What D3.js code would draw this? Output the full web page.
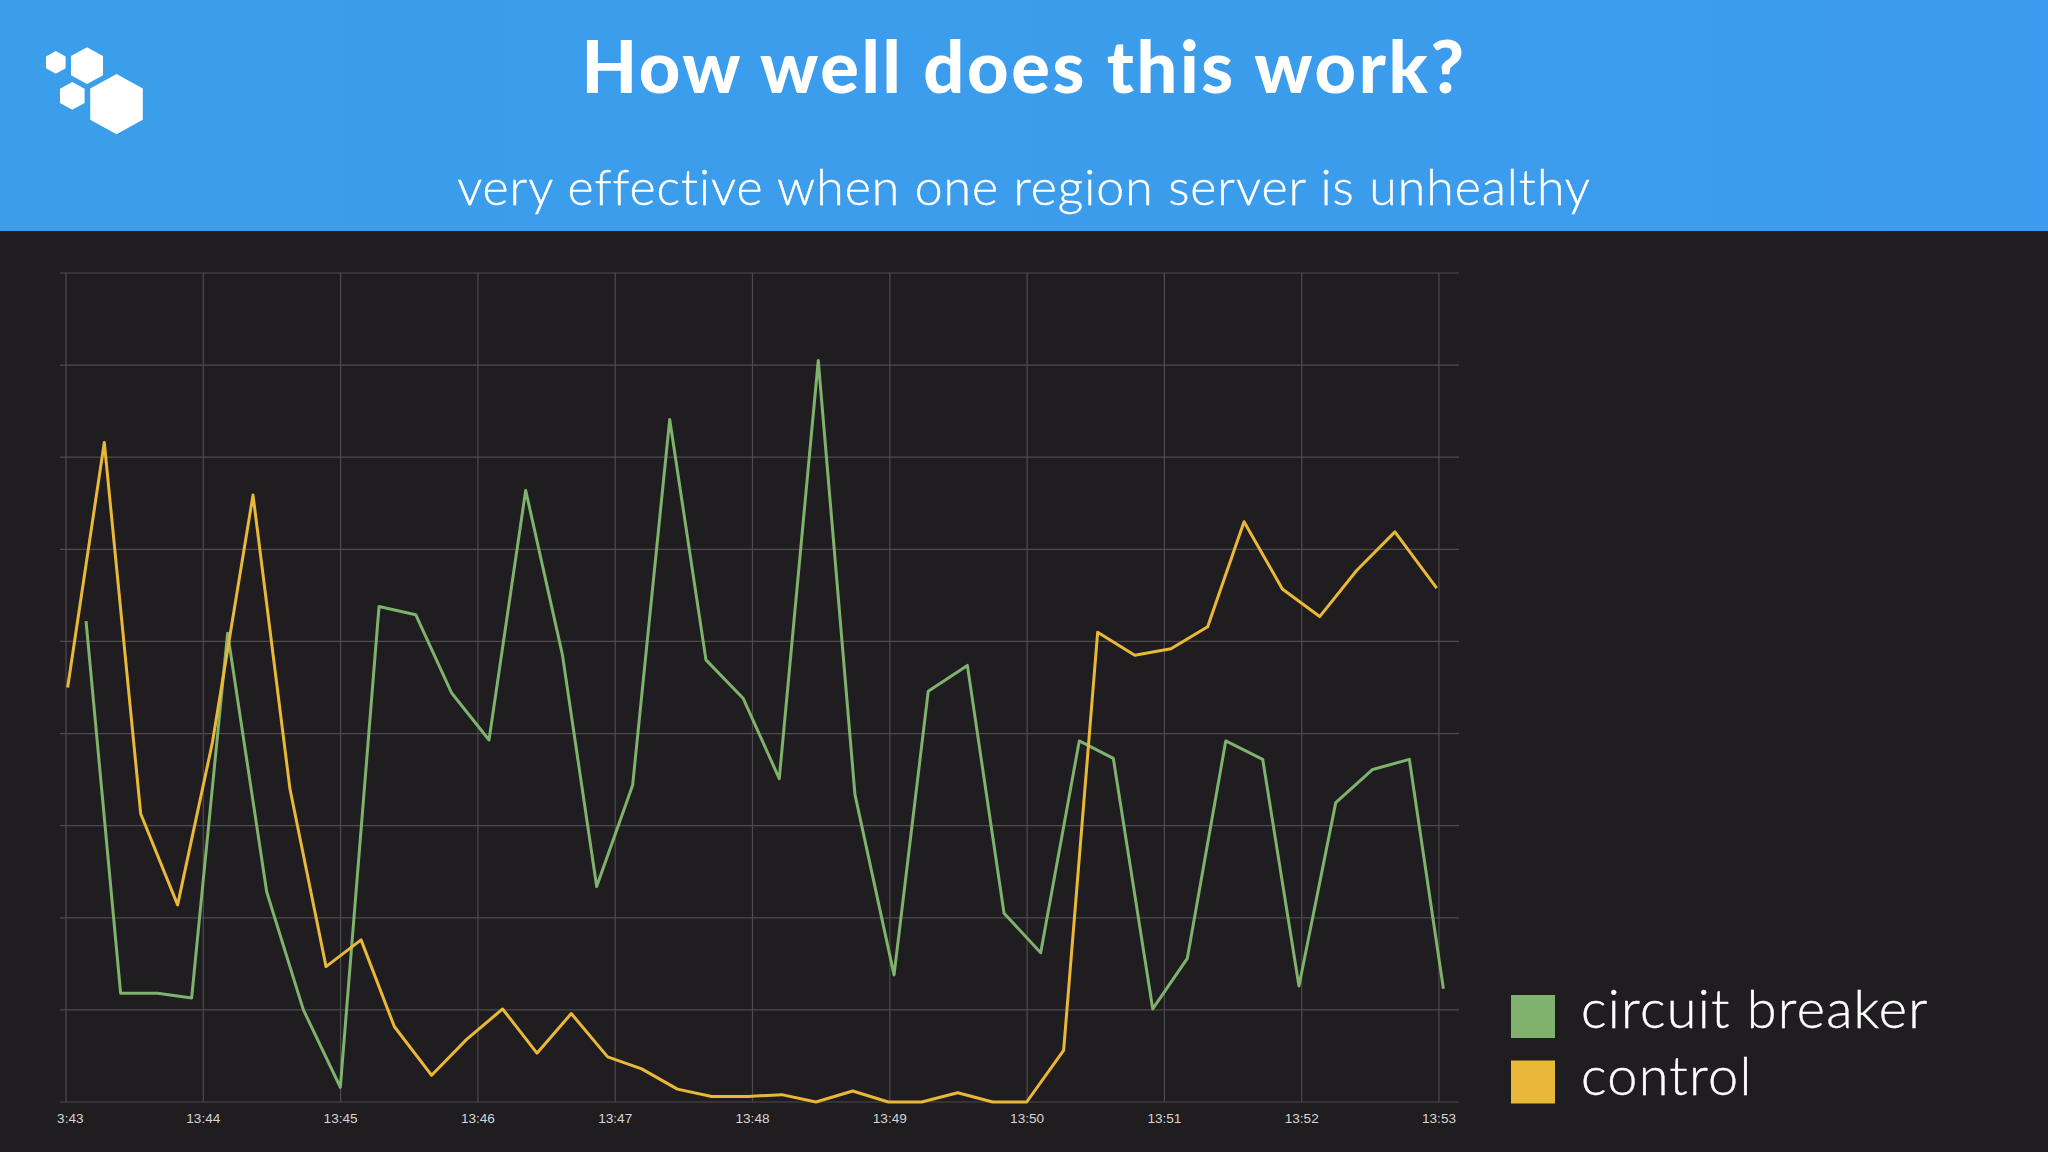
<!DOCTYPE html>
<html>
<head>
<meta charset="utf-8">
<title>How well does this work?</title>
<script src="https://d3js.org/d3.v7.min.js"></script>
<style>
	html, body { margin: 0; padding: 0; background: #1f1d1f; }
	svg { display: block; }
	.gridline line { stroke: #4d4b4e; stroke-width: 1.2; }
	.tickLabel text { font-family: "Liberation Sans", Arial, sans-serif; font-size: 13.6px; fill: #d5d5d6; }
</style>
</head>
<body>
<svg id="chart" width="2048" height="1152"></svg>
<script>
const title = "How well does this work?";
const subtitle = "very effective when one region server is unhealthy";

// minutes after 13:43, values in grid steps (the y axis has no labels in the slide)
const breakerMinutes = [0.146, 0.398, 0.668, 0.915, 1.177, 1.462, 1.729, 1.998, 2.280, 2.547, 2.809, 3.081, 3.348,
	3.615, 3.865, 4.127, 4.397, 4.661, 4.933, 5.195, 5.479, 5.746, 6.031, 6.280, 6.565, 6.832, 7.099, 7.380,
	7.628, 7.915, 8.167, 8.447, 8.716, 8.980, 9.248, 9.517, 9.784, 10.032];
const breakerValues = [5.22, 1.18, 1.18, 1.13, 5.09, 2.28, 1.00, 0.16, 5.38, 5.29, 4.44, 3.93, 6.64,
	4.86, 2.34, 3.44, 7.41, 4.80, 4.38, 3.51, 8.05, 3.34, 1.38, 4.46, 4.74, 2.05, 1.62, 3.92,
	3.73, 1.01, 1.56, 3.92, 3.72, 1.26, 3.25, 3.61, 3.72, 1.23];

const controlMinutes = [0.012, 0.279, 0.544, 0.813, 1.066, 1.362, 1.631, 1.894, 2.149, 2.391, 2.663, 2.918, 3.180,
	3.430, 3.680, 3.945, 4.193, 4.453, 4.703, 4.969, 5.213, 5.462, 5.730, 5.989, 6.232, 6.495, 6.749, 6.997,
	7.266, 7.514, 7.784, 8.048, 8.315, 8.580, 8.859, 9.131, 9.400, 9.679, 9.983];
const controlValues = [4.50, 7.16, 3.13, 2.14, 3.90, 6.59, 3.40, 1.47, 1.76, 0.82, 0.29, 0.68, 1.01,
	0.53, 0.96, 0.49, 0.36, 0.14, 0.06, 0.06, 0.08, 0, 0.12, 0, 0, 0.10, 0, 0,
	0.56, 5.10, 4.85, 4.92, 5.16, 6.30, 5.57, 5.27, 5.77, 6.19, 5.58];

const tickMinutes = [0, 1, 2, 3, 4, 5, 6, 7, 8, 9, 10];
const tickLabels = ["3:43", "13:44", "13:45", "13:46", "13:47", "13:48", "13:49", "13:50", "13:51", "13:52", "13:53"];
const gridSteps = [0, 1, 2, 3, 4, 5, 6, 7, 8, 9];

const legendNames = ["circuit breaker", "control"];
const legendColors = ["#7eb26d", "#eab839"];

const svg = d3.select("#chart");

/* BEGIN header */

const headerGradient = svg.append("defs").append("linearGradient").attr("id", "headerFill");
headerGradient.append("stop").attr("offset", "0%").attr("stop-color", "#3a9eea");
headerGradient.append("stop").attr("offset", "100%").attr("stop-color", "#3c9bee");

svg.append("rect")
	.attr("width", 2048)
	.attr("height", 231)
	.attr("fill", "url(#headerFill)");

svg.append("text")
	.attr("x", 1024)
	.attr("y", 93)
	.attr("text-anchor", "middle")
	.attr("font-family", "Lato, sans-serif")
	.attr("font-weight", 900)
	.attr("font-size", 72)
	.attr("letter-spacing", 2.65)
	.attr("fill", "#fff")
	.text(title);

svg.append("text")
	.attr("x", 1024)
	.attr("y", 205)
	.attr("text-anchor", "middle")
	.attr("font-family", "Lato, sans-serif")
	.attr("font-weight", 300)
	.attr("font-size", 50)
	.attr("letter-spacing", 0.95)
	.attr("stroke", "#fff")
	.attr("stroke-width", 0.4)
	.attr("fill", "#fff")
	.text(subtitle);

// logo, four pointy-top hexagons: [centre x, top, bottom, half width]
const hexagons = [[116.5, 74, 134.3, 26.3], [87, 47.3, 84, 16], [55.8, 51, 73.7, 9.8], [72.3, 82, 109.7, 12.3]];

svg.append("g").selectAll("path")
	.data(hexagons)
	.enter()
	.append("path")
	.attr("fill", "#fff")
	.attr("d", ([cx, top, bottom, w]) => {
		const shoulder = (bottom - top) * 0.24;
		return d3.line()([[cx, top], [cx + w, top + shoulder], [cx + w, bottom - shoulder],
			[cx, bottom], [cx - w, bottom - shoulder], [cx - w, top + shoulder]]) + "Z";
	});

/* END header */

const x = d3.scaleLinear().domain([0, 10]).range([66, 1439]);
const y = d3.scaleLinear().domain([0, 9]).range([1102, 273]);

// horizontal grid
svg.append("g")
	.attr("class", "gridline")
	.attr("transform", "translate(60,0)")
	.call(d3.axisLeft(y).tickValues(gridSteps).tickSize(-1399).tickFormat("").offset(0))
	.call(g => g.select(".domain").remove());

// vertical grid
svg.append("g")
	.attr("class", "gridline")
	.attr("transform", "translate(0,1102)")
	.call(d3.axisBottom(x).tickValues(tickMinutes).tickSize(-829).tickFormat("").offset(0))
	.call(g => g.select(".domain").remove());

// time labels
svg.append("g")
	.attr("class", "tickLabel")
	.attr("transform", "translate(0,1102)")
	.call(d3.axisBottom(x).tickValues(tickMinutes).tickSize(0).tickPadding(11).tickFormat((d, i) => tickLabels[i]).offset(0))
	.call(g => g.select(".domain").remove())
	.call(g => g.select(".tick text").attr("dx", 4.3)); // the first label is cut off on the left

const line = d3.line().x(d => x(d[0])).y(d => y(d[1]));

function drawSeries(minutes, values, color) {
	svg.append("path")
		.datum(d3.zip(minutes, values))
		.attr("fill", "none")
		.attr("stroke", color)
		.attr("stroke-width", 3)
		.attr("stroke-linejoin", "round")
		.attr("d", line);
}

drawSeries(breakerMinutes, breakerValues, legendColors[0]);
drawSeries(controlMinutes, controlValues, legendColors[1]);

/* BEGIN legend */

const legendRows = svg.append("g").selectAll("g")
	.data(legendNames)
	.enter()
	.append("g")
	.attr("transform", (d, i) => "translate(1511," + (995 + i * 65.5) + ")");

legendRows.append("rect")
	.attr("width", 44)
	.attr("height", 43)
	.attr("fill", (d, i) => legendColors[i]);

legendRows.append("text")
	.attr("x", 70)
	.attr("y", (d, i) => 33 + i * 1.5)
	.attr("font-family", "Lato, sans-serif")
	.attr("font-weight", 300)
	.attr("font-size", 54)
	.attr("letter-spacing", 1.3)
	.attr("stroke", "#fff")
	.attr("stroke-width", 0.4)
	.attr("fill", "#fff")
	.text(d => d);

/* END legend */
</script>
</body>
</html>
